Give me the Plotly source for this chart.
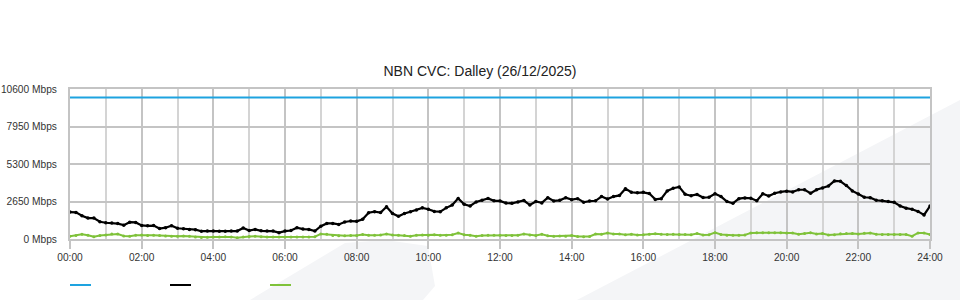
import plotly.graph_objects as go

# ---- data (10-minute samples, 00:00 -> 24:00) ----
sample_minutes = list(range(0, 24 * 60 + 1, 10))
hours = [m / 60 for m in sample_minutes]

capacity_mbps = [10000] * len(hours)

black_mbps = [
    1900, 1880, 1650, 1480, 1480, 1220, 1150, 1130, 1090, 980, 1190, 1170,
    960, 930, 950, 740, 800, 940, 760, 725, 680, 660, 550, 560,
    560, 555, 555, 560, 560, 780, 600, 675, 580, 560, 560, 450,
    560, 600, 795, 700, 680, 560, 900, 1100, 1100, 1030, 1200, 1270,
    1250, 1400, 1860, 1930, 1870, 2280, 1800, 1600, 1800, 1930, 2050, 2200,
    2100, 1950, 1930, 2200, 2400, 2870, 2450, 2330, 2620, 2740, 2870, 2700,
    2690, 2540, 2520, 2620, 2720, 2400, 2650, 2550, 2920, 2690, 2730, 2920,
    2780, 2850, 2600, 2680, 2700, 3000, 2820, 3000, 3080, 3550, 3300, 3260,
    3300, 3210, 2800, 2850, 3400, 3590, 3680, 3160, 3060, 3150, 2930, 2950,
    3200, 3000, 2650, 2520, 2850, 2900, 2880, 2700, 3200, 3040, 3230, 3330,
    3380, 3330, 3480, 3480, 3230, 3480, 3600, 3750, 4100, 4080, 3780, 3400,
    3180, 2950, 2920, 2740, 2700, 2650, 2590, 2330, 2180, 2100, 1950, 1700,
    2330,
]

green_mbps = [
    200, 250, 330, 270, 160, 250, 280, 350, 350, 220, 200, 270,
    280, 250, 260, 250, 220, 200, 200, 220, 190, 150, 110, 130,
    150, 150, 160, 150, 90, 150, 180, 200, 160, 150, 150, 150,
    150, 150, 150, 150, 150, 160, 360, 330, 250, 230, 230, 240,
    250, 320, 260, 260, 280, 360, 280, 260, 250, 200, 260, 280,
    260, 300, 270, 260, 300, 420, 300, 260, 200, 250, 260, 260,
    260, 250, 250, 260, 350, 280, 250, 330, 230, 200, 210, 200,
    250, 180, 160, 180, 350, 330, 430, 350, 360, 300, 340, 280,
    300, 330, 370, 330, 320, 330, 320, 320, 300, 380, 280, 300,
    450, 320, 270, 260, 270, 280, 430, 440, 440, 440, 440, 440,
    430, 420, 330, 380, 440, 360, 380, 280, 300, 370, 380, 380,
    350, 400, 420, 330, 320, 320, 320, 320, 320, 200, 430, 430,
    320,
]

y_tick_values = [0, 2650, 5300, 7950, 10600]
y_tick_labels = ["0 Mbps", "2650 Mbps", "5300 Mbps", "7950 Mbps", "10600 Mbps"]
x_tick_values = list(range(0, 25, 2))
x_tick_labels = ["%02d:00" % h for h in x_tick_values]

title_text = "NBN CVC: Dalley (26/12/2025)"

# ---- styling ----
BLUE = "#1ea3e0"
BLACK = "#000000"
GREEN = "#7fc23a"
GRID = "#c4c4c4"
GRID_MINOR = "#d4d4d4"
WATERMARK = "#f4f5f7"

W, H = 960, 300
L, R, T, B = 70, 30, 89, 61
PW, PH = W - L - R, H - T - B


def px(x):
    return (x - L) / PW


def py(y):
    return (H - B - y) / PH


fig = go.Figure()

fig.add_trace(go.Scatter(x=hours, y=capacity_mbps, mode="lines",
                         line=dict(color=BLUE, width=2), showlegend=False))
fig.add_trace(go.Scatter(x=hours, y=green_mbps, mode="lines+markers",
                         line=dict(color=GREEN, width=2),
                         marker=dict(size=3, color=GREEN), showlegend=False))
fig.add_trace(go.Scatter(x=hours, y=black_mbps, mode="lines+markers",
                         line=dict(color=BLACK, width=2.2),
                         marker=dict(size=3.5, color=BLACK), showlegend=False))


def poly(points):
    d = "M " + " L ".join("%.4f,%.4f" % (px(a), py(b)) for a, b in points) + " Z"
    return dict(type="path", path=d, xref="paper", yref="paper",
                fillcolor=WATERMARK, line=dict(width=0), layer="below")


shapes = [
    poly([(250, 300), (345, 243), (385, 240), (428, 246), (435, 286), (423, 300)]),
    poly([(577, 300), (960, 100), (960, 300)]),
]

# legend-like markers
for i, c in enumerate([BLUE, BLACK, GREEN]):
    x0 = 70 + i * 100
    shapes.append(dict(type="line", xref="paper", yref="paper",
                       x0=px(x0), x1=px(x0 + 21), y0=py(285), y1=py(285),
                       line=dict(color=c, width=2)))

fig.update_layout(
    width=W, height=H,
    margin=dict(l=L, r=R, t=T, b=B),
    paper_bgcolor="white", plot_bgcolor="rgba(0,0,0,0)",
    font=dict(family="Liberation Sans, Arial, sans-serif", size=10.2, color="#333333"),
    title=dict(text=title_text, x=0.5, xref="container", xanchor="center",
               y=1 - 71 / H, yref="container", yanchor="middle",
               font=dict(size=14, color="#222222")),
    shapes=shapes,
    showlegend=False,
)

fig.update_xaxes(
    range=[0, 24], tickmode="array", tickvals=x_tick_values, ticktext=x_tick_labels,
    showgrid=True, gridcolor=GRID, gridwidth=2,
    ticks="outside", ticklen=8, tickwidth=2, tickcolor=GRID,
    minor=dict(dtick=1, showgrid=True, gridcolor=GRID_MINOR, gridwidth=1.5),
    showline=True, linecolor=GRID, linewidth=2, mirror=True,
    zeroline=False, fixedrange=True, automargin=False,
)
fig.update_yaxes(
    range=[0, 10600], tickmode="array", tickvals=y_tick_values, ticktext=y_tick_labels,
    showgrid=True, gridcolor=GRID, gridwidth=2,
    showline=True, linecolor=GRID, linewidth=2, mirror=True,
    zeroline=False, ticks="", ticklabelstandoff=9, fixedrange=True, automargin=False,
)

fig.write_html("out.html")
